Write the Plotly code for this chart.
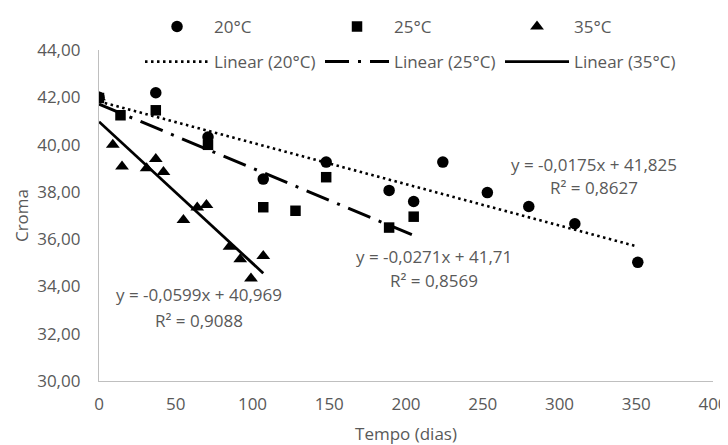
import plotly.graph_objects as go

# ---- data ----
days_20 = [0, 37, 71, 107, 148, 189, 205, 224, 253, 280, 310, 351]
croma_20 = [42.00, 42.19, 40.32, 38.54, 39.26, 38.06, 37.59, 39.26, 37.97, 37.38, 36.65, 35.02]

days_25 = [0, 14, 37, 71, 107, 128, 148, 189, 205]
croma_25 = [41.97, 41.24, 41.45, 39.99, 37.35, 37.20, 38.62, 36.49, 36.95]

days_35 = [0, 9, 15, 31, 37, 42, 55, 64, 70, 85, 92, 99, 107]
croma_35 = [42.00, 39.99, 39.07, 39.00, 39.39, 38.84, 36.81, 37.34, 37.44, 35.68, 35.15, 34.34, 35.29]

series_names = ["20°C", "25°C", "35°C"]
trend_names = ["Linear (20°C)", "Linear (25°C)", "Linear (35°C)"]
slopes = [-0.0175, -0.0271, -0.0599]
intercepts = [41.825, 41.71, 40.969]
eq_texts = ["y = -0,0175x + 41,825", "y = -0,0271x + 41,71", "y = -0,0599x + 40,969"]
r2_texts = ["R² = 0,8627", "R² = 0,8569", "R² = 0,9088"]

x_ticks = [0, 50, 100, 150, 200, 250, 300, 350, 400]
y_ticks = [30, 32, 34, 36, 38, 40, 42, 44]

FONT = "Open Sans"
TXT = "#595959"
FS = 17

fig = go.Figure()

# marker traces (drawing order: circles, triangles, squares)
fig.add_trace(go.Scatter(x=days_20, y=croma_20, mode="markers", name=series_names[0],
                         marker=dict(symbol="circle", size=11.5, color="black"),
                         legend="legend", legendrank=1))
fig.add_trace(go.Scatter(x=days_35, y=croma_35, mode="markers", name=series_names[2],
                         marker=dict(symbol="triangle-up", size=12, color="black"),
                         legend="legend", legendrank=3))
fig.add_trace(go.Scatter(x=days_25, y=croma_25, mode="markers", name=series_names[1],
                         marker=dict(symbol="square", size=10.5, color="black"),
                         legend="legend", legendrank=2))

# trend lines from the fitted equations, spanning each series' day range
all_days = [days_20, days_25, days_35]
dashes = ["2.5px,3.5px", "24px,9px,3px,9px", "solid"]
widths = [2.6, 3, 2.8]
for i in range(3):
    xs = [min(all_days[i]), max(all_days[i])]
    ys = [slopes[i] * v + intercepts[i] for v in xs]
    fig.add_trace(go.Scatter(x=xs, y=ys, mode="lines", name=trend_names[i],
                             line=dict(color="black", width=widths[i], dash=dashes[i]),
                             legend="legend2", legendrank=i + 1))

# equation annotations
eq_pos = [(322.6, 39.15, 38.17), (218.3, 35.25, 34.23), (65.0, 33.64, 32.58)]
for i in range(3):
    xc, y1, y2 = eq_pos[i]
    fig.add_annotation(x=xc, y=y1, xref="x", yref="y", text=eq_texts[i], showarrow=False,
                       font=dict(family=FONT, size=FS, color=TXT), xanchor="center", yanchor="middle")
    fig.add_annotation(x=xc, y=y2, xref="x", yref="y", text=r2_texts[i], showarrow=False,
                       font=dict(family=FONT, size=FS, color=TXT), xanchor="center", yanchor="middle")

legend_common = dict(orientation="h", xanchor="left", yanchor="top", itemwidth=64,
                     entrywidth=101, entrywidthmode="pixels",
                     font=dict(family=FONT, size=FS, color=TXT),
                     bgcolor="rgba(0,0,0,0)", traceorder="normal")

# the page body adds an 8px offset, so the figure is 8px smaller than the window
fig.update_layout(
    width=720, height=437,
    margin=dict(l=91, r=15, t=42, b=64, autoexpand=False),
    paper_bgcolor="white", plot_bgcolor="white",
    separators=",.",
    font=dict(family=FONT, size=FS, color=TXT),
    legend=dict(x=0.0668, y=1.124, **legend_common),
    legend2=dict(x=0.0668, y=1.018, **legend_common),
    xaxis=dict(range=[0, 400], tickvals=x_ticks, showgrid=False, zeroline=False,
               showline=True, linecolor="#BFBFBF", linewidth=1.3, ticks="",
               ticklabelstandoff=7,
               title=dict(text="Tempo (dias)", standoff=16, font=dict(family=FONT, size=FS, color=TXT))),
    yaxis=dict(range=[30, 44], tickvals=y_ticks, tickformat=".2f", showgrid=False, zeroline=False,
               showline=True, linecolor="#BFBFBF", linewidth=1.3, ticks="",
               ticklabelstandoff=14,
               title=dict(text="Croma", standoff=4, font=dict(family=FONT, size=FS, color=TXT))),
)

fig.write_html("out.html")
